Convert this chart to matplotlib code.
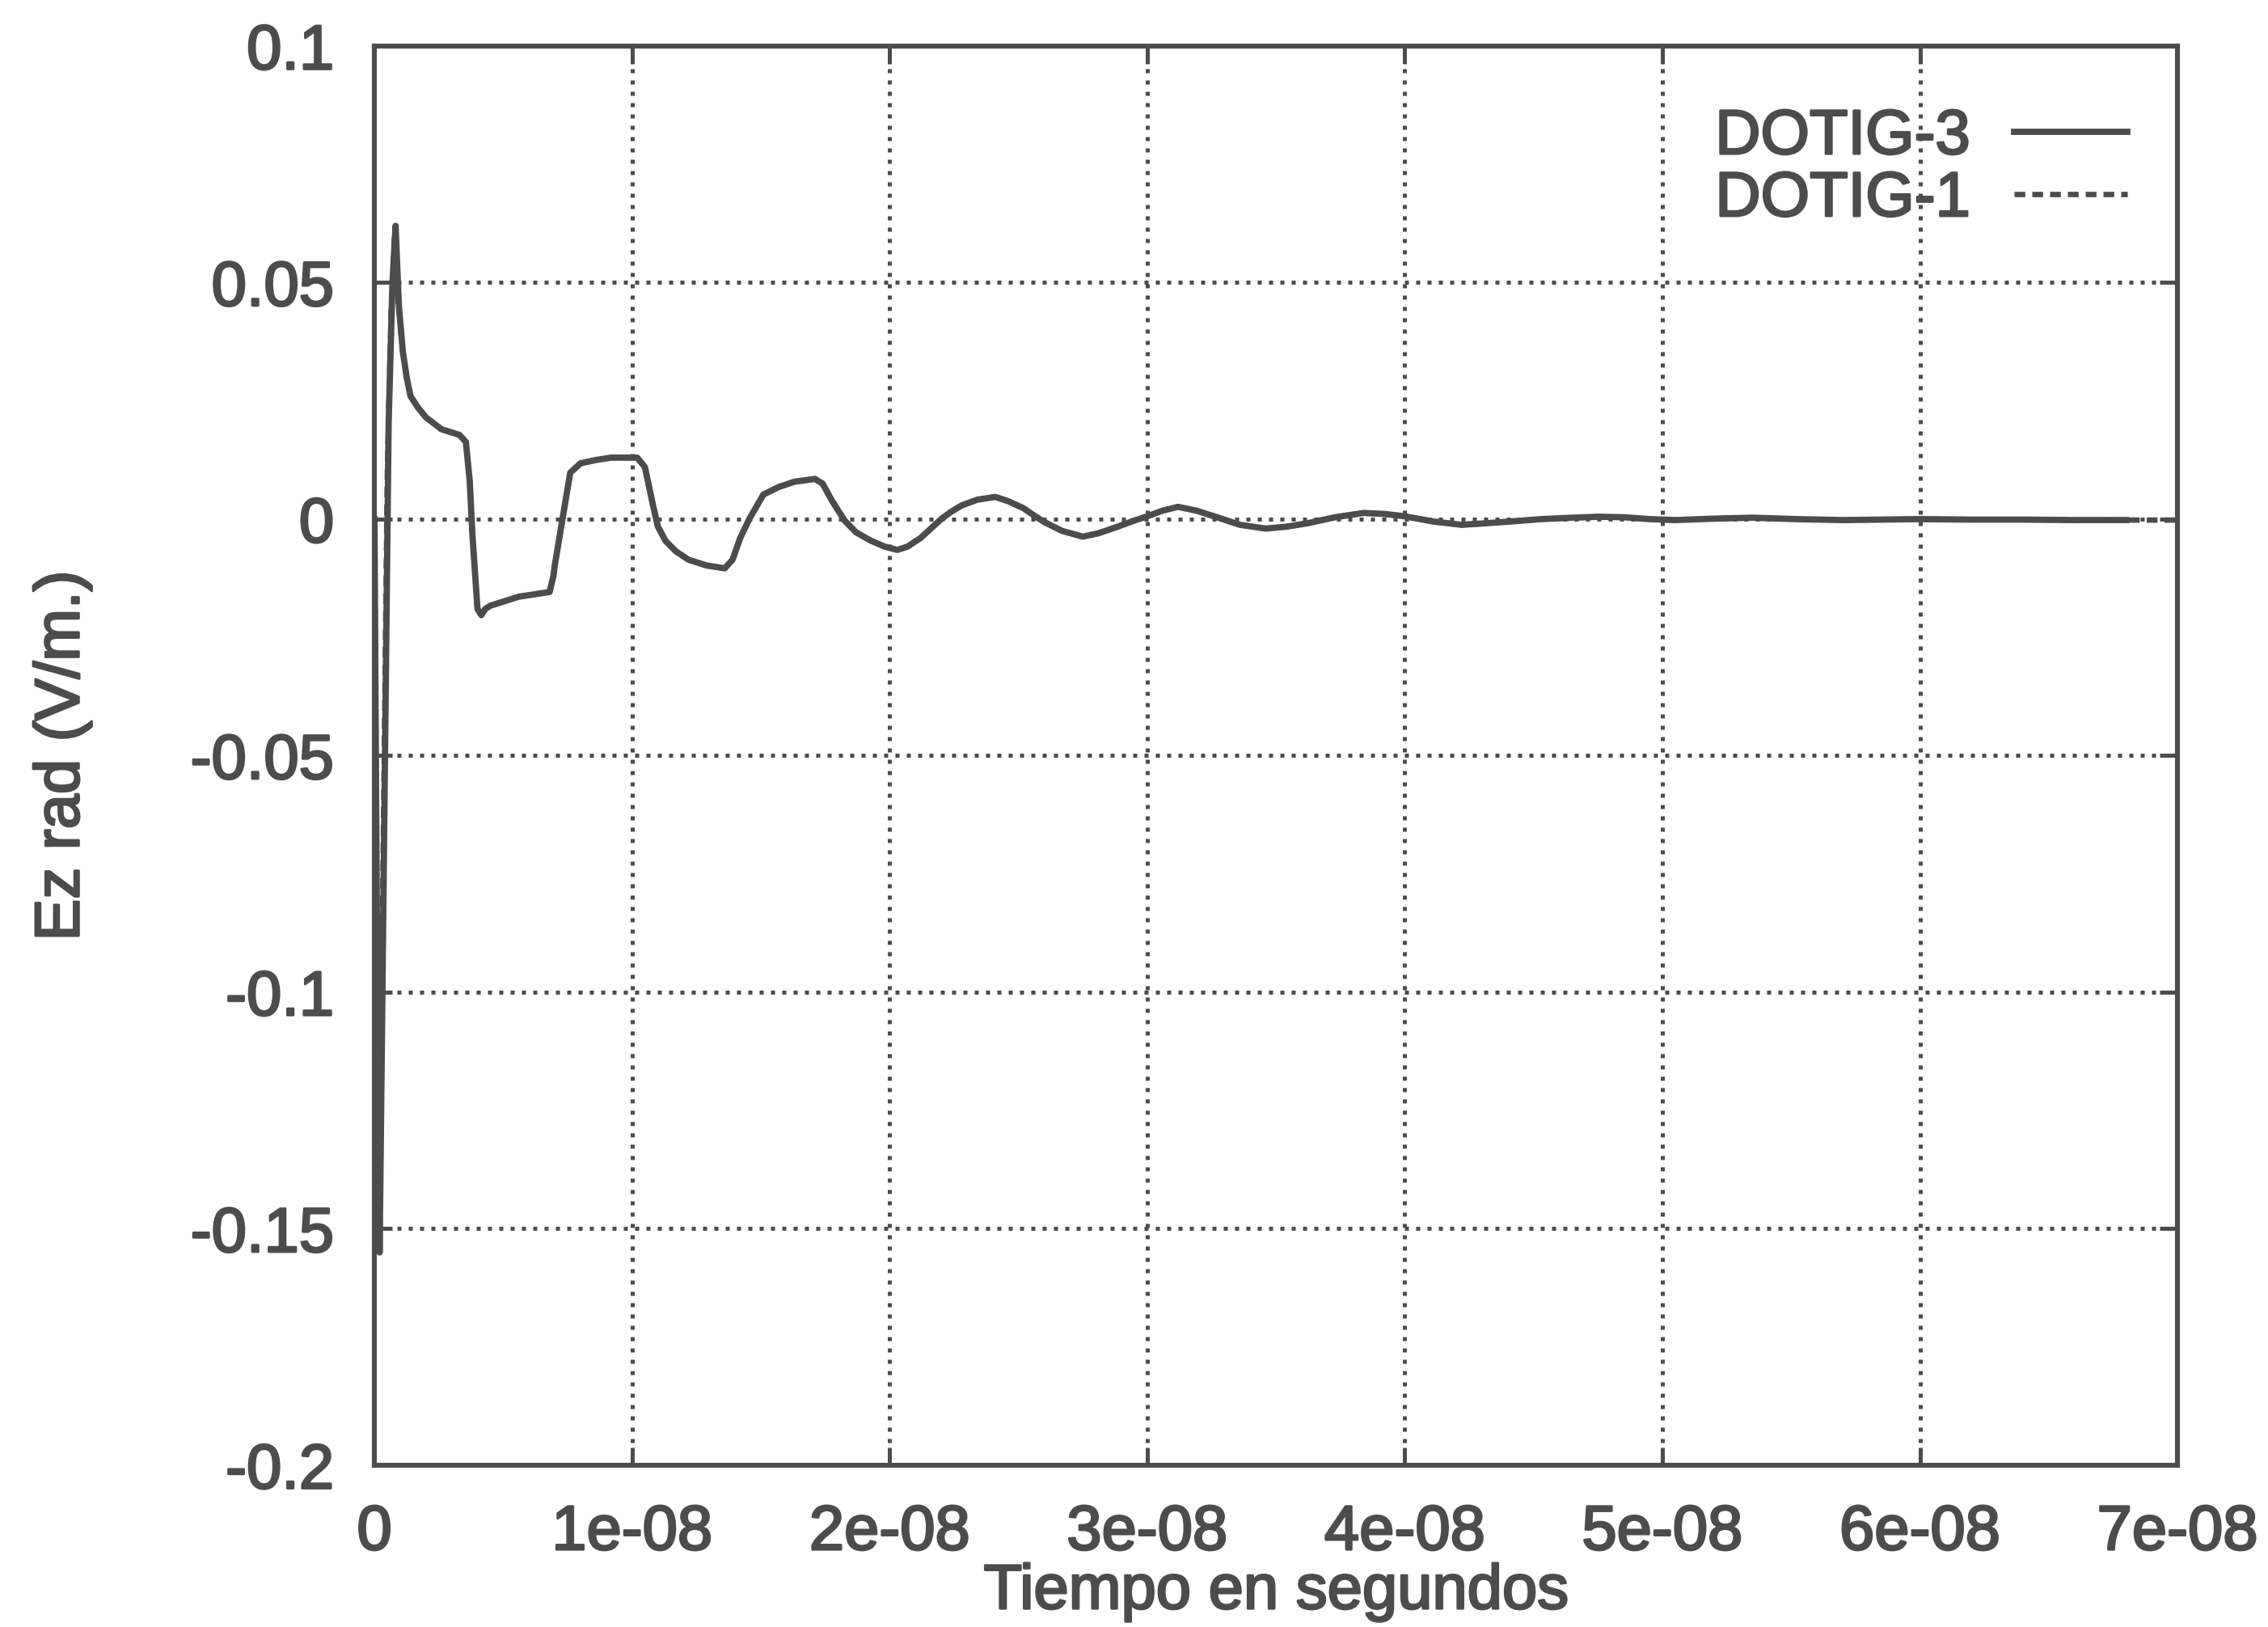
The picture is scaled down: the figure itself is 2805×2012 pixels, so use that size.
import matplotlib
matplotlib.use("Agg")
import matplotlib.pyplot as plt
import matplotlib.patheffects as pe

# Time in ns, field in V/m.
# The two runs differ only in the first nanosecond; after that they overlap.
t_start3 = [0.0, 0.1, 0.2, 0.35, 0.55, 0.7, 0.82, 0.95]
ez_start3 = [0.0, -0.09, -0.155, -0.08, 0.02, 0.05, 0.062, 0.045]
t_start1 = [0.0, 0.08, 0.18, 0.3, 0.5, 0.65, 0.78, 0.92]
ez_start1 = [0.0, -0.085, -0.15, -0.09, 0.01, 0.045, 0.06, 0.046]

t_common = [1.1, 1.25, 1.4, 1.7, 2.0, 2.6, 3.3, 3.55, 3.7, 3.8, 4.0, 4.15, 4.3, 4.5,
            5.6, 6.8, 6.95, 7.0, 7.3, 7.6, 8.0, 8.6, 9.2, 10.2, 10.5, 10.8, 11.0,
            11.3, 11.7, 12.2, 12.9, 13.6, 13.9, 14.2, 14.55, 15.1, 15.7, 16.3, 17.1,
            17.4, 17.75, 18.25, 18.7, 19.25, 19.8, 20.3, 20.7, 21.2, 21.6, 22.0, 22.4,
            22.8, 23.4, 24.1, 24.6, 25.2, 25.6, 26.0, 26.7, 27.5, 28.1, 28.8, 29.4,
            30.0, 30.6, 31.2, 31.9, 32.6, 33.6, 34.6, 35.4, 36.2, 37.3, 38.4, 39.2,
            40.0, 41.1, 42.2, 43.1, 44.1, 45.3, 46.5, 47.5, 48.5, 49.5, 50.5, 52.0,
            53.5, 55.2, 57.0, 58.5, 60.0, 62.0, 64.0, 66.0, 68.0]
ez_common = [0.0355, 0.030, 0.026, 0.0235, 0.0215, 0.019, 0.0178, 0.0163, 0.008,
             -0.003, -0.019, -0.0203, -0.019, -0.0183, -0.0164, -0.0154, -0.012,
             -0.0098, 0.0, 0.0098, 0.0118, 0.0125, 0.013, 0.013, 0.011, 0.0033,
             -0.0015, -0.0046, -0.0068, -0.0086, -0.0098, -0.0104, -0.0086, -0.004,
             0.0, 0.0052, 0.0068, 0.0079, 0.0085, 0.0075, 0.004, -0.0003, -0.0028,
             -0.0045, -0.0058, -0.0065, -0.0058, -0.004, -0.002, 0.0, 0.0016, 0.0029,
             0.0041, 0.0047, 0.0038, 0.0023, 0.0008, -0.0006, -0.0025, -0.0037,
             -0.003, -0.0017, -0.0005, 0.0006, 0.0018, 0.0026, 0.0018, 0.0006,
             -0.0012, -0.002, -0.0016, -0.0009, 0.0004, 0.0013, 0.0011, 0.0006,
             -0.0005, -0.0012, -0.0009, -0.0005, 0.0, 0.0003, 0.0005, 0.0004, 0.0,
             -0.0002, 0.0001, 0.0003, 0.0, -0.0002, -0.0001, 0.0, -0.0001, -0.0001,
             -0.0002, -0.0002]
# DOTIG-1 runs on to the right edge
t_end1 = [69.0, 70.0]
ez_end1 = [-0.0002, -0.0002]

x_ticks = [0, 1e-08, 2e-08, 3e-08, 4e-08, 5e-08, 6e-08, 7e-08]
x_labels = ["0", "1e-08", "2e-08", "3e-08", "4e-08", "5e-08", "6e-08", "7e-08"]
y_ticks = [-0.2, -0.15, -0.1, -0.05, 0, 0.05, 0.1]
y_labels = ["-0.2", "-0.15", "-0.1", "-0.05", "0", "0.05", "0.1"]

ink = "#4c4c4c"
plt.rcParams["font.family"] = ["Liberation Sans", "DejaVu Sans"]
plt.rcParams["axes.unicode_minus"] = False
heavy = [pe.withStroke(linewidth=1.0, foreground=ink)]

fig = plt.figure(figsize=(14.025, 10.06), dpi=200)
ax = fig.add_axes([0.1651, 0.0994, 0.795, 0.8723])

t3 = [t * 1e-9 for t in t_start3 + t_common]
t1 = [t * 1e-9 for t in t_start1 + t_common + t_end1]
ax.plot(t3, ez_start3 + ez_common, color=ink, lw=2.8, label="DOTIG-3")
ax.plot(t1, ez_start1 + ez_common + ez_end1, color=ink, lw=2.4,
        linestyle=(0, (2.0, 1.3)), label="DOTIG-1")

ax.set_xlim(0, 7e-08)
ax.set_ylim(-0.2, 0.1)
ax.set_xticks(x_ticks)
ax.set_xticklabels(x_labels)
ax.set_yticks(y_ticks)
ax.set_yticklabels(y_labels)

ax.grid(True, color=ink, linestyle=(0, (1, 1.8)), linewidth=1.8)
ax.tick_params(direction="in", length=8, width=1.8, colors=ink, labelsize=28,
               top=True, right=True)
ax.tick_params(axis="x", pad=17)
ax.tick_params(axis="y", pad=18)
for label in ax.get_xticklabels() + ax.get_yticklabels():
    label.set_path_effects(heavy)
for spine in ax.spines.values():
    spine.set_color(ink)
    spine.set_linewidth(2.2)

ax.set_xlabel("Tiempo en segundos", fontsize=28, color=ink, labelpad=0,
              path_effects=heavy)
ax.set_ylabel("Ez rad (V/m.)", fontsize=28, color=ink, labelpad=44,
              path_effects=heavy)

leg = ax.legend(loc="upper right", bbox_to_anchor=(1.0, 0.992), frameon=False,
                markerfirst=False, fontsize=28, handlelength=1.8,
                handletextpad=0.7, labelspacing=0.05, borderaxespad=0.4)
for text in leg.get_texts():
    text.set_color(ink)
    text.set_path_effects(heavy)

fig.savefig("out.png", dpi=200, facecolor="white")
